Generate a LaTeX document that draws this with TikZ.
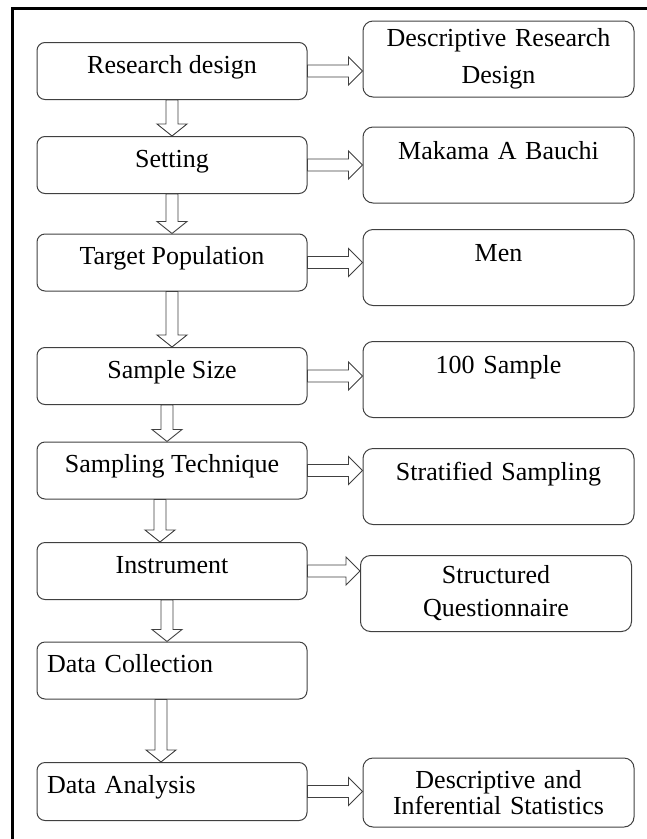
\documentclass[tikz,border=0pt]{standalone}
\usepackage{fontspec}
\setmainfont{Liberation Serif}
\usetikzlibrary{calc}

\newcommand{\rarrow}[2]{%
  \draw[hollow] let \p1=(#1.east), \p2=(#2.west) in
    (\x1,\y1+6pt) -- (\x2-14pt,\y1+6pt) -- (\x2-14pt,\y1+14pt) -- (\x2,\y1)
    -- (\x2-14pt,\y1-14pt) -- (\x2-14pt,\y1-6pt) -- (\x1,\y1-6pt) -- cycle;}
\newcommand{\darrow}[3][0pt]{%
  \draw[hollow] let \p1=(#2.south), \p2=(#3.north) in
    (\x1+#1-6pt,\y1) -- (\x1+#1-6pt,\y2+12pt) -- (\x1+#1-15pt,\y2+12pt) -- (\x1+#1,\y2)
    -- (\x1+#1+15pt,\y2+12pt) -- (\x1+#1+6pt,\y2+12pt) -- (\x1+#1+6pt,\y1) -- cycle;}

\begin{document}
\begin{tikzpicture}[x=1pt, y=-1pt,
  box/.style={draw=black!75, line width=1pt, rounded corners=8pt, minimum width=270pt,
    minimum height=57pt, text height=18pt, text depth=14pt, font=\fontsize{26}{30}\selectfont},
  leftbox/.style={box, align=left, text width=250pt, inner xsep=10pt},
  outbox/.style={draw=black!75, line width=1pt, rounded corners=10pt, minimum width=271pt,
    minimum height=76pt, align=center, text width=255pt, inner xsep=8pt},
  topline/.style={outbox, font=\fontsize{26}{30}\selectfont, text height=28pt, text depth=40pt, inner ysep=4pt},
  hollow/.style={draw=black!75, line width=0.9pt, fill=white}]
\useasboundingbox (0,0) rectangle (647,839);
\draw[line width=3pt] (12,839) -- (12,8) -- (647,8);

\node[box] (rd) at (172,71) {Research design};
\node[box] (set) at (172,165) {Setting};
\node[box] (tp) at (172,262.5) {Target Population};
\node[box] (ss) at (172,376) {Sample Size};
\node[box] (st) at (172,470.5) {Sampling Technique};
\node[box] (ins) at (172,571) {Instrument};
\node[leftbox] (dc) at (172,670.5) {Data Collection};
\node[leftbox, minimum height=58pt] (da) at (172,791.5) {Data Analysis};

\node[outbox, font=\fontsize{26}{37}\selectfont] (design) at (498.5,59) {Descriptive Research\\Design};
\node[topline] (place) at (498.5,165) {Makama A Bauchi};
\node[topline] (pop) at (498.5,267.5) {Men};
\node[topline] (size) at (498.5,379.5) {100 Sample};
\node[topline] (tech) at (498.5,486.5) {Stratified Sampling};
\node[outbox, font=\fontsize{26}{33}\selectfont] (tool) at (496,593.5) {Structured\\Questionnaire};
\node[outbox, minimum height=69pt, font=\fontsize{26}{26}\selectfont] (stat) at (498.5,792.5)
  {Descriptive and\\Inferential Statistics};

\rarrow{rd}{design}
\rarrow{set}{place}
\rarrow{tp}{pop}
\rarrow{ss}{size}
\rarrow{st}{tech}
\rarrow{ins}{tool}
\rarrow{da}{stat}

\darrow{rd}{set}
\darrow{set}{tp}
\darrow{tp}{ss}
\darrow[-5pt]{ss}{st}
\darrow[-12pt]{st}{ins}
\darrow[-5pt]{ins}{dc}
\darrow[-11pt]{dc}{da}
\end{tikzpicture}
\end{document}
